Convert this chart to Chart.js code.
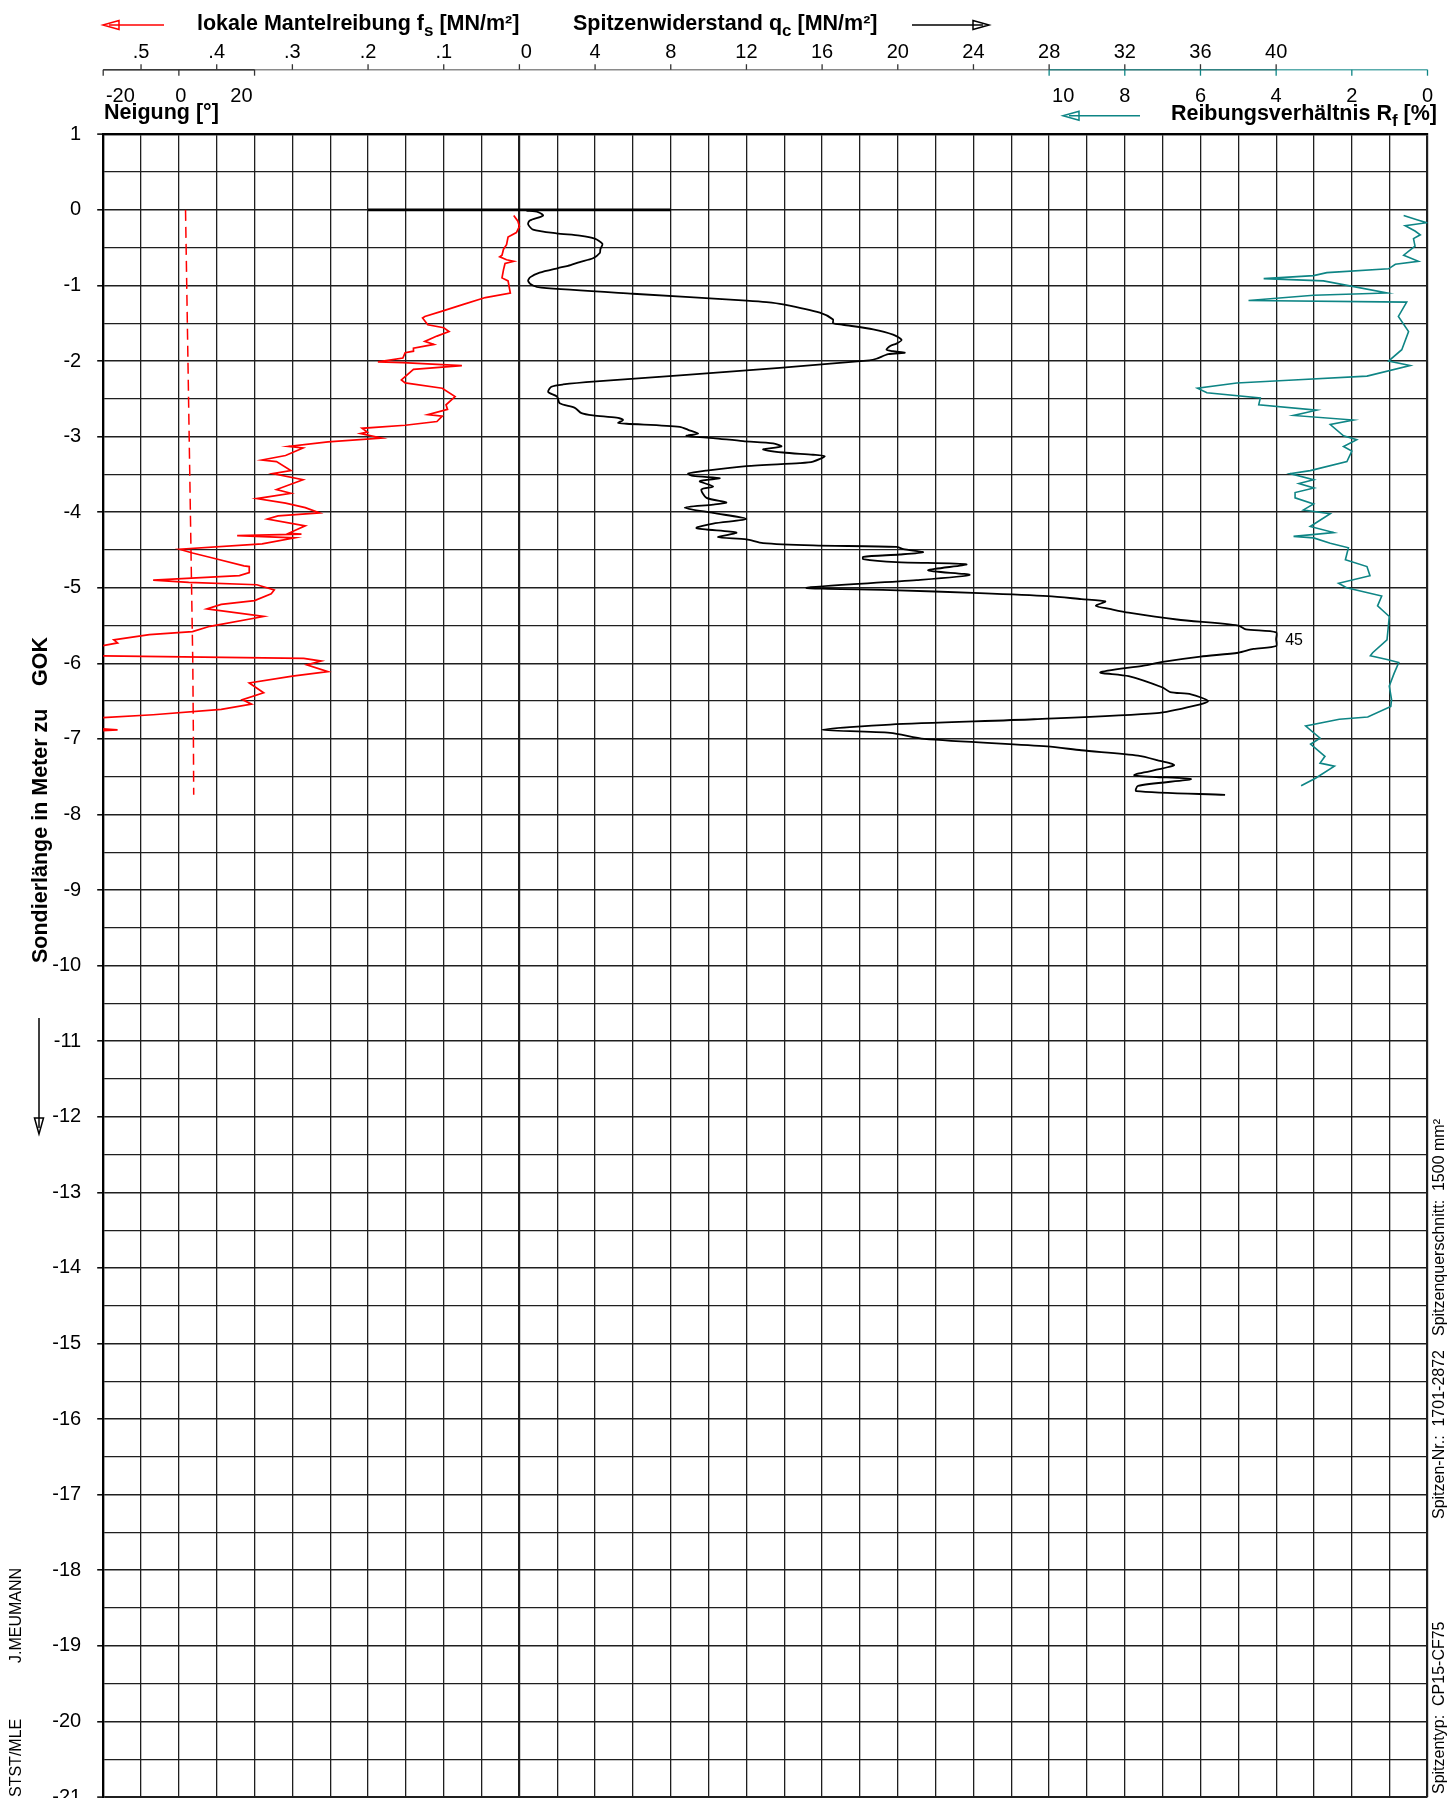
<!DOCTYPE html>
<html>
<head>
<meta charset="utf-8">
<title>Drucksondierung</title>
<script src="https://cdn.jsdelivr.net/npm/chart.js@4.4.1/dist/chart.umd.min.js"></script>
<style>
	html, body { margin: 0; padding: 0; background: #fff; }
	#wrap { position: relative; width: 1447px; height: 1798px; }
</style>
</head>
<body>
<div id="wrap"><canvas id="cpt"></canvas></div>
<script>
const fsDepth = [-0.075,-0.15,-0.22,-0.30,-0.36,-0.46,-0.52,-0.60,-0.62,-0.66,-0.68,-0.71,-0.79,-0.90,-0.94,-1.10,-1.16,-1.25,-1.34,-1.41,-1.43,-1.52,-1.56,-1.61,-1.67,-1.74,-1.78,-1.83,-1.87,-1.89,-1.96,-2.01,-2.02,-2.06,-2.11,-2.25,-2.29,-2.36,-2.47,-2.58,-2.64,-2.71,-2.73,-2.80,-2.85,-2.89,-2.94,-2.96,-3.02,-3.07,-3.13,-3.15,-3.25,-3.31,-3.33,-3.45,-3.49,-3.57,-3.70,-3.75,-3.82,-3.88,-3.94,-4.01,-4.05,-4.09,-4.18,-4.28,-4.29,-4.31,-4.34,-4.42,-4.49,-4.54,-4.61,-4.71,-4.72,-4.80,-4.84,-4.90,-4.93,-4.96,-5.03,-5.08,-5.17,-5.22,-5.28,-5.38,-5.51,-5.58,-5.62,-5.69,-5.73,-5.77,-5.83,-5.90,-5.935,-5.97,-6.02,-6.11,-6.17,-6.26,-6.39,-6.48,-6.54,-6.61,-6.68,-6.72,-6.80,-6.86,-6.88,-6.90];
const fsValue = [0.0075,0.002,0.000,0.004,0.015,0.017,0.021,0.023,0.026,0.017,0.0075,0.019,0.021,0.023,0.015,0.012,0.045,0.074,0.102,0.125,0.128,0.121,0.100,0.093,0.109,0.125,0.113,0.140,0.140,0.151,0.154,0.187,0.154,0.076,0.140,0.156,0.151,0.102,0.085,0.097,0.095,0.121,0.102,0.109,0.151,0.208,0.201,0.210,0.182,0.253,0.305,0.286,0.309,0.340,0.321,0.302,0.326,0.286,0.321,0.302,0.347,0.309,0.283,0.264,0.319,0.333,0.283,0.305,0.288,0.373,0.297,0.340,0.449,0.432,0.404,0.364,0.357,0.357,0.370,0.484,0.437,0.347,0.324,0.328,0.350,0.394,0.413,0.338,0.409,0.432,0.489,0.536,0.531,0.552,0.600,0.570,0.285,0.262,0.281,0.253,0.300,0.357,0.338,0.366,0.354,0.394,0.484,0.552,0.600,0.560,0.531,0.570];

const qcDepth = [-0.01,-0.03,-0.075,-0.14,-0.19,-0.26,-0.31,-0.34,-0.38,-0.45,-0.52,-0.57,-0.64,-0.69,-0.74,-0.77,-0.83,-0.89,-0.94,-1.00,-1.03,-1.11,-1.20,-1.22,-1.25,-1.36,-1.45,-1.50,-1.52,-1.58,-1.65,-1.72,-1.77,-1.80,-1.85,-1.87,-1.89,-1.91,-1.97,-1.99,-2.09,-2.19,-2.27,-2.31,-2.34,-2.41,-2.47,-2.56,-2.62,-2.69,-2.72,-2.75,-2.78,-2.82,-2.83,-2.87,-2.91,-2.96,-2.99,-3.02,-3.06,-3.09,-3.13,-3.17,-3.21,-3.24,-3.26,-3.33,-3.35,-3.39,-3.45,-3.49,-3.52,-3.55,-3.59,-3.66,-3.70,-3.81,-3.87,-3.90,-3.94,-4.01,-4.09,-4.15,-4.21,-4.27,-4.33,-4.36,-4.41,-4.44,-4.46,-4.49,-4.53,-4.56,-4.59,-4.62,-4.66,-4.69,-4.77,-4.83,-4.90,-5.00,-5.03,-5.07,-5.11,-5.15,-5.18,-5.24,-5.28,-5.33,-5.42,-5.50,-5.55,-5.59,-5.68,-5.77,-5.81,-5.86,-5.91,-5.98,-6.03,-6.12,-6.17,-6.32,-6.38,-6.41,-6.50,-6.56,-6.66,-6.74,-6.81,-6.88,-6.92,-7.00,-7.10,-7.15,-7.22,-7.28,-7.35,-7.48,-7.53,-7.62,-7.69,-7.74];
const qcValue = [0.37,0.99,1.25,0.55,0.46,0.72,1.96,3.19,3.98,4.39,4.28,4.25,3.89,3.19,2.57,2.04,1.07,0.58,0.46,0.72,1.16,6.0,12.0,13.06,13.94,15.88,16.58,16.58,17.1,18.7,19.75,20.2,19.93,19.6,19.4,19.75,20.37,19.5,18.87,18.5,13.76,8.48,4.07,2.31,1.69,1.52,1.99,2.13,2.93,3.28,3.89,5.13,5.48,5.22,5.66,8.48,8.92,9.45,8.83,10.24,11.82,13.41,13.85,12.88,13.94,15.52,16.14,15.52,14.82,12.0,9.89,8.92,9.18,10.59,9.53,10.24,9.62,9.89,10.94,10.24,8.74,10.24,12.0,10.24,9.36,11.47,10.5,12.0,12.88,15.52,19.93,20.3,21.34,20.1,18.17,18.17,19.93,23.63,21.6,23.8,21.0,15.17,19.6,24.33,27.95,29.7,30.97,30.47,31.2,32.2,34.75,38.0,38.4,40.3,45.0,40.3,38.8,38.0,36.0,34.0,33.0,30.7,32.2,34.0,34.4,35.5,36.4,35.7,33.7,27.2,19.6,16.0,19.6,21.4,27.9,29.7,32.7,33.7,34.6,32.5,35.5,32.7,32.6,37.3];

const rfDepth = [-0.075,-0.13,-0.17,-0.21,-0.28,-0.33,-0.38,-0.48,-0.60,-0.68,-0.72,-0.78,-0.83,-0.87,-0.91,-0.94,-1.10,-1.13,-1.20,-1.22,-1.41,-1.61,-1.85,-2.00,-2.06,-2.20,-2.25,-2.29,-2.36,-2.42,-2.49,-2.58,-2.65,-2.72,-2.78,-2.84,-2.99,-3.04,-3.13,-3.19,-3.33,-3.45,-3.49,-3.57,-3.62,-3.68,-3.74,-3.81,-3.89,-3.97,-4.02,-4.19,-4.27,-4.32,-4.34,-4.41,-4.47,-4.63,-4.72,-4.84,-4.94,-5.00,-5.11,-5.24,-5.38,-5.69,-5.86,-5.90,-5.95,-5.99,-6.13,-6.30,-6.48,-6.57,-6.71,-6.74,-6.83,-6.99,-7.07,-7.23,-7.32,-7.36,-7.52,-7.62];
const rfValue = [0.63,0.28,0.02,0.59,0.33,0.19,0.37,0.33,0.63,0.24,0.85,1.03,2.66,3.01,4.33,2.75,1.07,3.01,4.73,0.55,0.77,0.50,0.68,1.03,0.46,1.60,3.54,5.04,6.08,5.83,4.42,4.46,2.93,3.54,1.96,2.57,2.22,1.87,2.22,2.00,2.13,3.10,3.63,3.01,3.40,3.00,3.50,3.50,3.01,3.28,2.57,3.10,2.48,3.54,3.01,2.57,2.09,2.17,1.60,1.52,2.35,2.14,1.21,1.32,1.01,1.07,1.45,1.51,1.07,0.76,0.88,1.01,0.95,0.97,1.58,2.33,3.22,2.84,3.09,2.71,2.84,2.46,2.96,3.34];

const tiltDepth = [0,-1,-2,-3,-4,-5,-6,-7,-7.74];
const tiltValue = [2.2,2.6,3.0,3.4,3.8,4.2,4.6,4.8,4.9];

// ground level mark (in qc units of the sheet: fs 0.2 .. qc 8)
const gokMarkQc = [-8, 8];
const qcClip = 40;
const qcPeak = { depth: -5.7, text: '45' };

// axis ticks printed above the grid
const fsTicks = [0.5, 0.4, 0.3, 0.2, 0.1, 0];
const qcTicks = [4, 8, 12, 16, 20, 24, 28, 32, 36, 40];
const rfTicks = [10, 8, 6, 4, 2, 0];
const tiltTicks = [-20, 0, 20];
const depthMin = -21;
const depthMax = 1;

const FONT = '"Liberation Sans", Arial, Helvetica, sans-serif';
const RED = '#ff0000';
const TEAL = '#0e8585';

Chart.defaults.font.family = FONT;
Chart.defaults.color = '#000';

const toPoints = (depths, values, cap) =>
	depths.map((d, i) => ({ x: cap === undefined ? values[i] : Math.min(values[i], cap), y: d }));

function richText(ctx, parts, x, y, align) {
	const big = `bold 21.5px ${FONT}`;
	const small = `bold 17px ${FONT}`;
	const widths = parts.map(([t, sub]) => {
		ctx.font = sub ? small : big;
		return ctx.measureText(t).width;
	});
	let cx = align === 'right' ? x - widths.reduce((a, b) => a + b, 0) : x;
	ctx.textAlign = 'left';
	ctx.textBaseline = 'alphabetic';
	parts.forEach(([t, sub], i) => {
		ctx.font = sub ? small : big;
		ctx.fillText(t, cx, sub ? y + 6 : y);
		cx += widths[i];
	});
}

function arrow(ctx, x1, y1, x2, y2, color) {
	const len = Math.hypot(x2 - x1, y2 - y1);
	const ux = (x2 - x1) / len, uy = (y2 - y1) / len;
	const head = 16, half = 4.5;
	const bx = x2 - ux * head, by = y2 - uy * head;
	ctx.strokeStyle = color;
	ctx.lineWidth = 1.5;
	ctx.beginPath();
	ctx.moveTo(x1, y1);
	ctx.lineTo(x2 - ux * 6, y2 - uy * 6);
	ctx.stroke();
	ctx.beginPath();
	ctx.moveTo(x2, y2);
	ctx.lineTo(bx - uy * half, by + ux * half);
	ctx.lineTo(bx + uy * half, by - ux * half);
	ctx.closePath();
	ctx.stroke();
}

function vText(ctx, text, x, y, font) {
	ctx.save();
	ctx.translate(x, y);
	ctx.rotate(-Math.PI / 2);
	ctx.font = font;
	ctx.textAlign = 'left';
	ctx.textBaseline = 'alphabetic';
	ctx.fillText(text, 0, 0);
	ctx.restore();
}

const sheetFrame = {
	id: 'sheetFrame',
	afterDraw(chart) {
		const ctx = chart.ctx;
		const sQc = chart.scales.x;
		const sFs = chart.scales.xFs;
		const sRf = chart.scales.xRf;
		const sTilt = chart.scales.xTilt;
		const sY = chart.scales.y;
		const axisY = 69.7;

		ctx.save();
		ctx.fillStyle = '#000';

		// axis lines above the grid
		ctx.lineWidth = 1.6;
		ctx.strokeStyle = '#8a8a8a';
		ctx.beginPath();
		ctx.moveTo(sFs.getPixelForValue(0.55), axisY);
		ctx.lineTo(sQc.getPixelForValue(40), axisY);
		ctx.stroke();
		ctx.strokeStyle = '#3a3a3a';
		ctx.beginPath();
		ctx.moveTo(sTilt.getPixelForValue(-25), axisY);
		ctx.lineTo(sTilt.getPixelForValue(25), axisY);
		ctx.stroke();
		ctx.strokeStyle = 'rgba(0,128,128,0.65)';
		ctx.beginPath();
		ctx.moveTo(sRf.getPixelForValue(10), axisY);
		ctx.lineTo(sRf.getPixelForValue(0), axisY);
		ctx.stroke();

		// ticks: fs / qc upwards, tilt / Rf downwards
		ctx.lineWidth = 1.3;
		const tick = (x, dy, color) => {
			ctx.strokeStyle = color;
			ctx.beginPath();
			ctx.moveTo(x, axisY);
			ctx.lineTo(x, axisY + dy);
			ctx.stroke();
		};
		fsTicks.forEach((v) => tick(sFs.getPixelForValue(v), -5.5, '#333'));
		qcTicks.forEach((v) => tick(sQc.getPixelForValue(v), -5.5, '#333'));
		[-25, 0, 25].forEach((v) => tick(sTilt.getPixelForValue(v), 6, '#333'));
		rfTicks.forEach((v) => tick(sRf.getPixelForValue(v), 6, TEAL));

		// tick labels
		ctx.font = `20px ${FONT}`;
		ctx.textAlign = 'center';
		ctx.textBaseline = 'alphabetic';
		fsTicks.forEach((v) => {
			const label = v === 0 ? '0' : String(v).replace('0.', '.');
			ctx.fillText(label, sFs.getPixelForValue(v) + (v === 0 ? 7 : 0), 58);
		});
		qcTicks.forEach((v) => ctx.fillText(String(v), sQc.getPixelForValue(v), 58));
		tiltTicks.forEach((v) => ctx.fillText(String(v), sTilt.getPixelForValue(v) + 2, 101.5));
		rfTicks.forEach((v) => ctx.fillText(String(v), sRf.getPixelForValue(v) + (v === 10 ? 14 : 0), 101.5));

		// titles
		richText(ctx, [['lokale Mantelreibung f', false], ['s', true], [' [MN/m²]', false]], 197, 29.5);
		richText(ctx, [['Spitzenwiderstand q', false], ['c', true], [' [MN/m²]', false]], 573, 29.5);
		richText(ctx, [['Neigung [°]', false]], 104, 119);
		richText(ctx, [['Reibungsverhältnis R', false], ['f', true], [' [%]', false]], 1437, 120, 'right');

		arrow(ctx, 164, 25, 103, 25, RED);
		arrow(ctx, 912, 25, 989, 25, '#000');
		arrow(ctx, 1140, 115.7, 1063, 115.7, TEAL);

		// depth axis title
		ctx.fillStyle = '#000';
		vText(ctx, 'Sondierlänge in Meter zu', 47, 963, `bold 21.5px ${FONT}`);
		vText(ctx, 'GOK', 47, 686, `bold 21.5px ${FONT}`);
		arrow(ctx, 39, 1018, 39, 1134, '#000');

		// sheet notes
		vText(ctx, 'J.MEUMANN', 21, 1663, `16px ${FONT}`);
		vText(ctx, 'STST/MLE', 21, 1797, `16px ${FONT}`);
		vText(ctx, 'Spitzentyp:  CP15-CF75', 1444, 1794, `16px ${FONT}`);
		vText(ctx, 'Spitzen-Nr.:  1701-2872', 1444, 1519, `16px ${FONT}`);
		vText(ctx, 'Spitzenquerschnitt:  1500 mm²', 1444, 1336, `16px ${FONT}`);

		// value of the clipped qc peak
		ctx.font = `16px ${FONT}`;
		ctx.textAlign = 'left';
		ctx.textBaseline = 'middle';
		ctx.fillStyle = '#000';
		ctx.fillText(qcPeak.text, sQc.getPixelForValue(qcClip) + 9, sY.getPixelForValue(qcPeak.depth));
		ctx.restore();
	},
};

const edgeWidth = (v, a, b) => (v === a || v === b ? 2.2 : null);

new Chart(document.getElementById('cpt'), {
	type: 'scatter',
	data: {
		datasets: [
			{
				label: 'Neigung',
				data: toPoints(tiltDepth, tiltValue),
				xAxisID: 'xTilt',
				showLine: true,
				borderColor: RED,
				borderWidth: 1.5,
				borderDash: [11, 6],
				pointRadius: 0,
			},
			{
				label: 'fs',
				data: toPoints(fsDepth, fsValue),
				xAxisID: 'xFs',
				showLine: true,
				borderColor: RED,
				borderWidth: 1.7,
				pointRadius: 0,
			},
			{
				label: 'Rf',
				data: toPoints(rfDepth, rfValue),
				xAxisID: 'xRf',
				showLine: true,
				borderColor: TEAL,
				borderWidth: 1.6,
				pointRadius: 0,
			},
			{
				label: 'qc',
				data: toPoints(qcDepth, qcValue, qcClip),
				xAxisID: 'x',
				showLine: true,
				borderColor: '#000',
				borderWidth: 1.8,
				tension: 0.25,
				pointRadius: 0,
			},
			{
				label: 'GOK',
				data: gokMarkQc.map((x) => ({ x, y: 0 })),
				xAxisID: 'x',
				showLine: true,
				borderColor: '#000',
				borderWidth: 2.6,
				pointRadius: 0,
			},
		],
	},
	options: {
		responsive: true,
		maintainAspectRatio: false,
		devicePixelRatio: 1,
		animation: false,
		events: [],
		layout: { padding: { left: 0, right: 19.5, top: 134.3, bottom: 1 } },
		plugins: { legend: { display: false }, tooltip: { enabled: false } },
		scales: {
			x: {
				type: 'linear',
				position: 'top',
				min: -22,
				max: 48,
				ticks: { display: false, stepSize: 2, autoSkip: false },
				grid: {
					drawTicks: false,
					color: '#1f1f1f',
					lineWidth: (c) => (c.tick && c.tick.value === 0 ? 2.2 : edgeWidth(c.tick && c.tick.value, -22, 48) || 1.3),
				},
				border: { display: true, color: '#000', width: 2.2 },
				afterFit: (s) => {
					s.height = 0;
					s.paddingLeft = 0;
					s.paddingRight = 0;
				},
			},
			xFs: { type: 'linear', display: false, reverse: true, min: -1.2, max: 0.55 },
			xRf: { type: 'linear', display: false, reverse: true, min: 0, max: 35 },
			xTilt: { type: 'linear', display: false, min: -25, max: 412.5 },
			y: {
				type: 'linear',
				position: 'left',
				min: depthMin,
				max: depthMax,
				ticks: {
					stepSize: 0.5,
					autoSkip: false,
					padding: 16,
					color: '#000',
					font: { size: 20 },
					callback: (v) => (Number.isInteger(v) ? String(v) : ''),
				},
				grid: {
					color: '#1f1f1f',
					lineWidth: (c) => edgeWidth(c.tick && c.tick.value, depthMin, depthMax) || (Number.isInteger(c.tick && c.tick.value) ? 1.6 : 1.3),
					tickLength: 6,
					tickWidth: 1.5,
					tickColor: (c) => (Number.isInteger(c.tick && c.tick.value) ? '#000' : 'rgba(0,0,0,0)'),
				},
				border: { display: true, color: '#000', width: 2.2 },
				afterFit: (s) => {
					s.width = 103.2;
					s.paddingTop = 0;
					s.paddingBottom = 0;
				},
			},
		},
	},
	plugins: [sheetFrame],
});
</script>
</body>
</html>
